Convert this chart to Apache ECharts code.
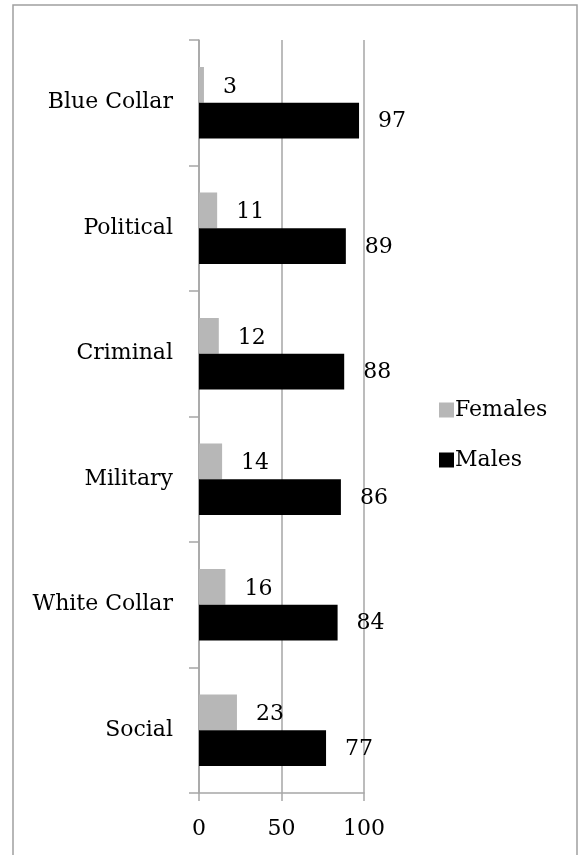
<!DOCTYPE html>
<html>
<head>
<meta charset="utf-8">
<script src="https://cdn.jsdelivr.net/npm/echarts@6/dist/echarts.min.js"></script>
<style>
html,body{margin:0;padding:0;background:#fff;}
#chart{width:579px;height:855px;}
</style>
</head>
<body>
<div id="chart"></div>
<script>
var categories = ['Blue Collar', 'Political', 'Criminal', 'Military', 'White Collar', 'Social'];
var females = [3, 11, 12, 14, 16, 23];
var males = [97, 89, 88, 86, 84, 77];
var xTicks = [0, 50, 100];

var FONT = 'DejaVu Serif';
var GRID = '#a6a6a6';

var chart = echarts.init(document.getElementById('chart'), null, {renderer: 'canvas'});
chart.setOption({
  animation: false,
  backgroundColor: '#ffffff',
  textStyle: {fontFamily: FONT},
  graphic: [{
    type: 'rect',
    shape: {x: 13, y: 5, width: 564, height: 900},
    style: {fill: 'none', stroke: '#a0a0a0', lineWidth: 1.5},
    silent: true
  }],
  legend: {
    orient: 'vertical',
    left: 434,
    top: 394,
    itemWidth: 15,
    itemHeight: 15,
    itemGap: 28,
    icon: 'rect',
    textStyle: {fontFamily: FONT, fontSize: 22, color: '#000', padding: [0, 0, 0, -4]},
    data: ['Females', 'Males']
  },
  grid: {left: 199, right: 215, top: 40, bottom: 62, containLabel: false},
  xAxis: {
    type: 'value',
    min: xTicks[0],
    max: xTicks[xTicks.length - 1],
    interval: 50,
    axisLine: {show: true, lineStyle: {color: GRID, width: 1.5}},
    axisTick: {show: true, length: 8, lineStyle: {color: GRID, width: 1.5}},
    splitLine: {show: true, lineStyle: {color: GRID, width: 1.5}},
    axisLabel: {fontFamily: FONT, fontSize: 22, color: '#000', margin: 25}
  },
  yAxis: {
    type: 'category',
    inverse: true,
    data: categories,
    axisLine: {show: true, lineStyle: {color: GRID, width: 1.5}},
    axisTick: {show: true, length: 10, alignWithLabel: false, lineStyle: {color: GRID, width: 1.5}},
    axisLabel: {fontFamily: FONT, fontSize: 22, color: '#000', margin: 26}
  },
  series: [
    {
      name: 'Females',
      type: 'bar',
      data: females,
      barGap: '0%',
      barCategoryGap: '43%',
      itemStyle: {color: '#b7b7b7'},
      label: {show: true, position: 'right', distance: 19, offset: [0, 2], fontFamily: FONT, fontSize: 22, color: '#000'}
    },
    {
      name: 'Males',
      type: 'bar',
      data: males,
      barGap: '0%',
      barCategoryGap: '43%',
      itemStyle: {color: '#000000'},
      label: {show: true, position: 'right', distance: 19, offset: [0, 1], fontFamily: FONT, fontSize: 22, color: '#000'}
    }
  ]
});
</script>
</body>
</html>
